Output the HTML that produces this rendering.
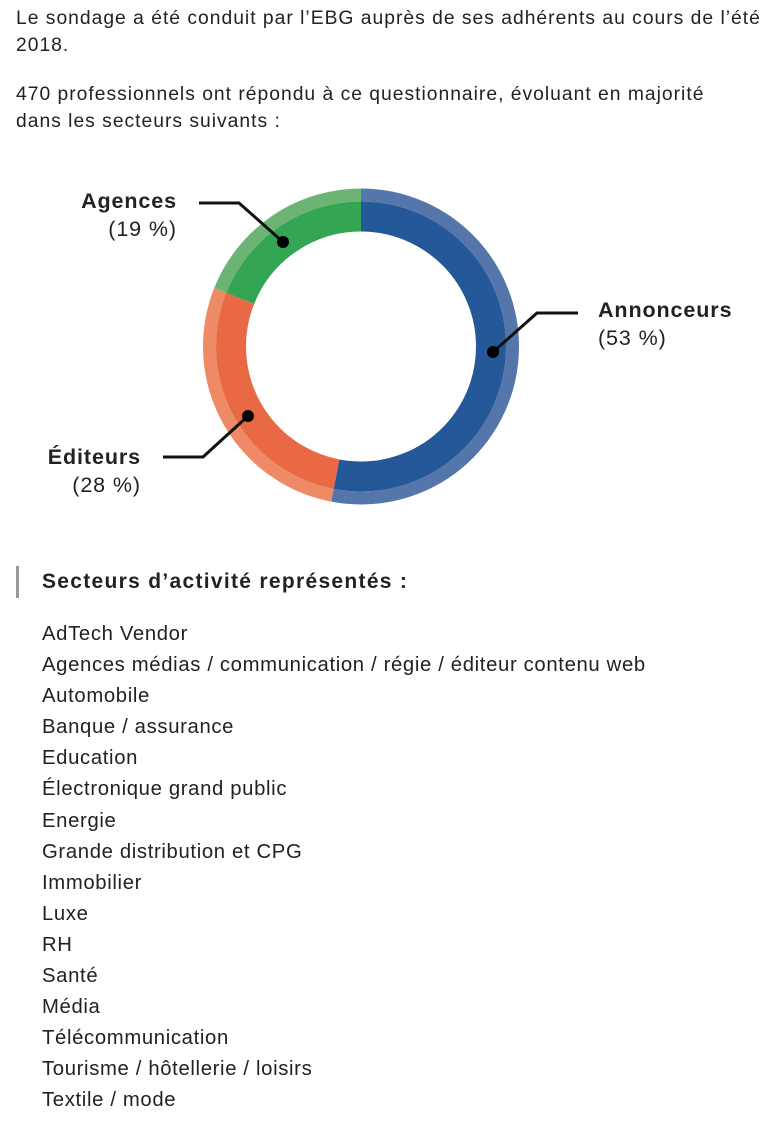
<!DOCTYPE html>
<html><head><meta charset="utf-8"><style>
body{margin:0;width:774px;height:1123px;background:#fff;font-family:"Liberation Sans",sans-serif;color:#222;position:relative;overflow:hidden}
.t{position:absolute;left:16px;font-size:19.3px;letter-spacing:1px;line-height:27px;margin:0;white-space:nowrap}
.lbl{position:absolute;font-size:21.5px;letter-spacing:0.9px;line-height:28px;text-align:right}
.lbl b{font-weight:bold}
.h{position:absolute;left:16px;top:566px;border-left:3px solid #999;padding-left:23px;font-weight:bold;font-size:21px;letter-spacing:1.3px;line-height:32px}
ul{position:absolute;left:42px;top:619px;margin:0;padding:0;list-style:none;font-size:20.3px;letter-spacing:0.65px;line-height:31.1px}
</style></head><body>
<p class="t" style="top:5px">Le sondage a été conduit par l’EBG auprès de ses adhérents au cours de l’été<br>2018.</p>
<p class="t" style="top:81px">470 professionnels ont répondu à ce questionnaire, évoluant en majorité<br>dans les secteurs suivants :</p>
<svg style="position:absolute;left:0;top:0" width="774" height="560">
<g transform="rotate(-90 361 346.5)">
<circle cx="361" cy="346.5" r="151.5" fill="none" stroke="#5576ab" stroke-width="13" stroke-dasharray="504.5 447.4" stroke-dashoffset="0"/>
<circle cx="361" cy="346.5" r="151.5" fill="none" stroke="#ee8b66" stroke-width="13" stroke-dasharray="266.5 685.4" stroke-dashoffset="-504.5"/>
<circle cx="361" cy="346.5" r="151.5" fill="none" stroke="#6db474" stroke-width="13" stroke-dasharray="181 770.9" stroke-dashoffset="-771"/>
<circle cx="361" cy="346.5" r="130" fill="none" stroke="#245898" stroke-width="30" stroke-dasharray="432.9 383.9"/>
<circle cx="361" cy="346.5" r="130" fill="none" stroke="#e96944" stroke-width="30" stroke-dasharray="228.7 588.1" stroke-dashoffset="-432.9"/>
<circle cx="361" cy="346.5" r="130" fill="none" stroke="#34a552" stroke-width="30" stroke-dasharray="155.2 661.6" stroke-dashoffset="-661.6"/>
</g>
<g stroke="#111" stroke-width="3" fill="none">
<polyline points="493,352 537,313 578,313"/>
<polyline points="283,242 239,203 199,203"/>
<polyline points="248,416 203,457 163,457"/>
</g>
<g fill="#000"><circle cx="493" cy="352" r="6"/><circle cx="283" cy="242" r="6"/><circle cx="248" cy="416" r="6"/></g>
</svg>
<div class="lbl" style="left:598px;top:296px;text-align:left"><b>Annonceurs</b><br>(53 %)</div>
<div class="lbl" style="right:597px;top:187px"><b>Agences</b><br>(19 %)</div>
<div class="lbl" style="right:633px;top:443px"><b>Éditeurs</b><br>(28 %)</div>
<div class="h">Secteurs d’activité représentés :</div>
<ul>
<li>AdTech Vendor</li><li>Agences médias / communication / régie / éditeur contenu web</li><li>Automobile</li><li>Banque / assurance</li><li>Education</li><li>Électronique grand public</li><li>Energie</li><li>Grande distribution et CPG</li><li>Immobilier</li><li>Luxe</li><li>RH</li><li>Santé</li><li>Média</li><li>Télécommunication</li><li>Tourisme / hôtellerie / loisirs</li><li>Textile / mode</li>
</ul>
</body></html>
